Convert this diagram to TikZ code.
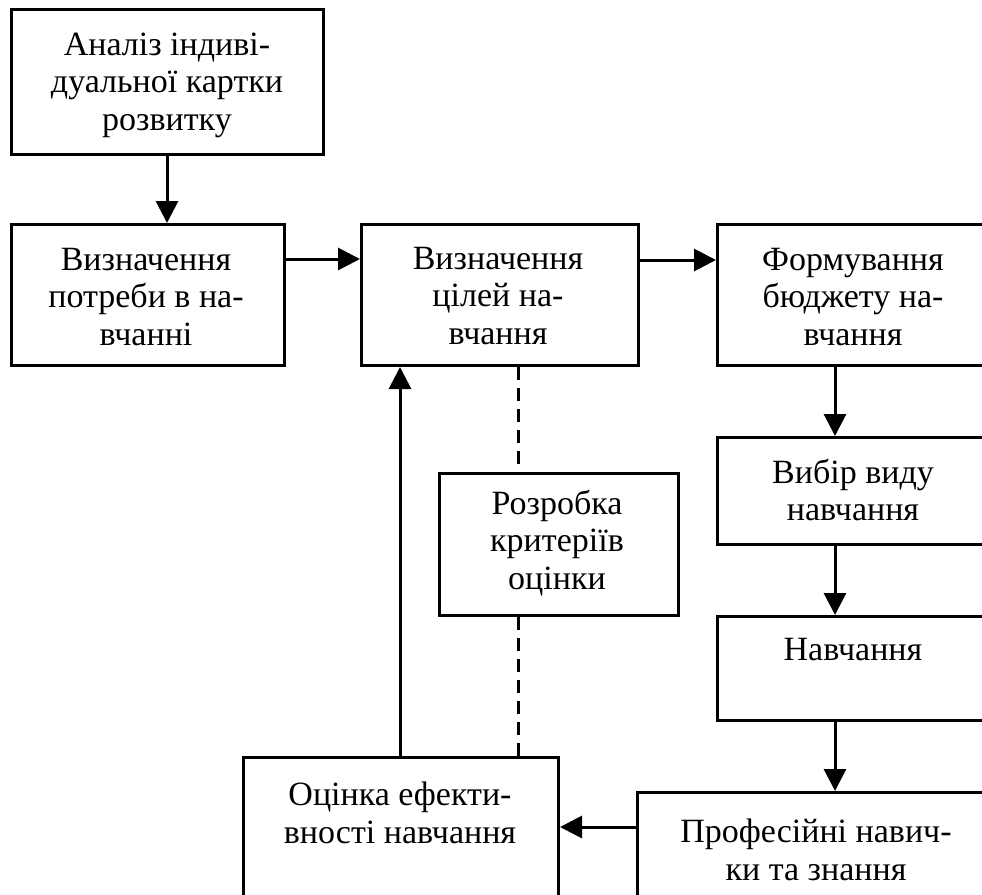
\documentclass[tikz,border=0pt]{standalone}
\usepackage{fontspec}
\setmainfont{Liberation Serif}
\usetikzlibrary{arrows.meta,calc}
\tikzset{
  box/.style={draw, line width=1.5pt, inner sep=0pt, anchor=north west},
  txt/.style={align=center, inner sep=0pt, font=\fontsize{17}{18.75}\selectfont},
  arr/.style={line width=1.5pt, -{Triangle[length=11pt,width=11pt]}},
  dline/.style={line width=1.5pt, dash pattern=on 6.5pt off 4pt}
}
\begin{document}
\begin{tikzpicture}[x=0.5pt,y=-0.5pt]
\clip (0,0) rectangle (982,895);
\fill[white] (0,0) rectangle (982,895);
% boxes
\node[box, minimum width=156pt, minimum height=72.5pt] (A) at (10,8) {};
\node[box, minimum width=136.5pt, minimum height=70.5pt] (B) at (10,223) {};
\node[box, minimum width=138.5pt, minimum height=70.5pt] (C) at (360,223) {};
\node[box, minimum width=142pt, minimum height=70.5pt] (D) at (716,223) {};
\node[box, minimum width=142pt, minimum height=53.5pt] (E) at (716,436) {};
\node[box, minimum width=142pt, minimum height=52pt] (F) at (716,615) {};
\node[box, minimum width=182pt, minimum height=64.5pt] (G) at (636,791) {};
\node[box, minimum width=157.5pt, minimum height=82pt] (H) at (242,756) {};
\node[box, minimum width=119.5pt, minimum height=71pt] (I) at (438,472) {};
% texts
\node[txt] (At) at (167,85) {Аналіз індиві-\\дуальної картки\\розвитку};
\node[txt] (Bt) at (146,297) {Визначення\\потреби в на-\\вчанні};
\node[txt] (Ct) at (498,296) {Визначення\\цілей на-\\вчання};
\node[txt] (Dt) at (853,297) {Формування\\бюджету на-\\вчання};
\node[txt] (Et) at (853,490) {Вибір виду\\навчання};
\node[txt] (Ft) at (853,650) {Навчання};
\node[txt] (Gt) at (816,850) {Професійні навич-\\ки та знання};
\node[txt] (Ht) at (400,813) {Оцінка ефекти-\\вності навчання};
\node[txt] (It) at (557,543) {Розробка\\критеріїв\\оцінки};
% connectors
\draw[arr] ($(A.south west)+(157,0)$) -- ($(B.north west)+(157,0)$);
\draw[arr] ($(B.north east)+(0,36)$) -- ($(C.north west)+(0,36)$);
\draw[arr] ($(C.north east)+(0,37)$) -- ($(D.north west)+(0,37)$);
\draw[arr] ($(D.south west)+(119,0)$) -- ($(E.north west)+(119,0)$);
\draw[arr] ($(E.south west)+(119,0)$) -- ($(F.north west)+(119,0)$);
\draw[arr] ($(F.south west)+(119,0)$) -- ($(G.north west)+(199,0)$);
\draw[arr] ($(G.north west)+(0,36)$) -- ($(H.north east)+(0,71)$);
\draw[arr] ($(H.north west)+(158,0)$) -- ($(C.south west)+(40,0)$);
\draw[dline] ($(C.south west)+(158,0)$) -- ($(I.north west)+(80,0)$);
\draw[dline] ($(I.south west)+(80,0)$) -- ($(H.north west)+(276,0)$);
\end{tikzpicture}
\end{document}
